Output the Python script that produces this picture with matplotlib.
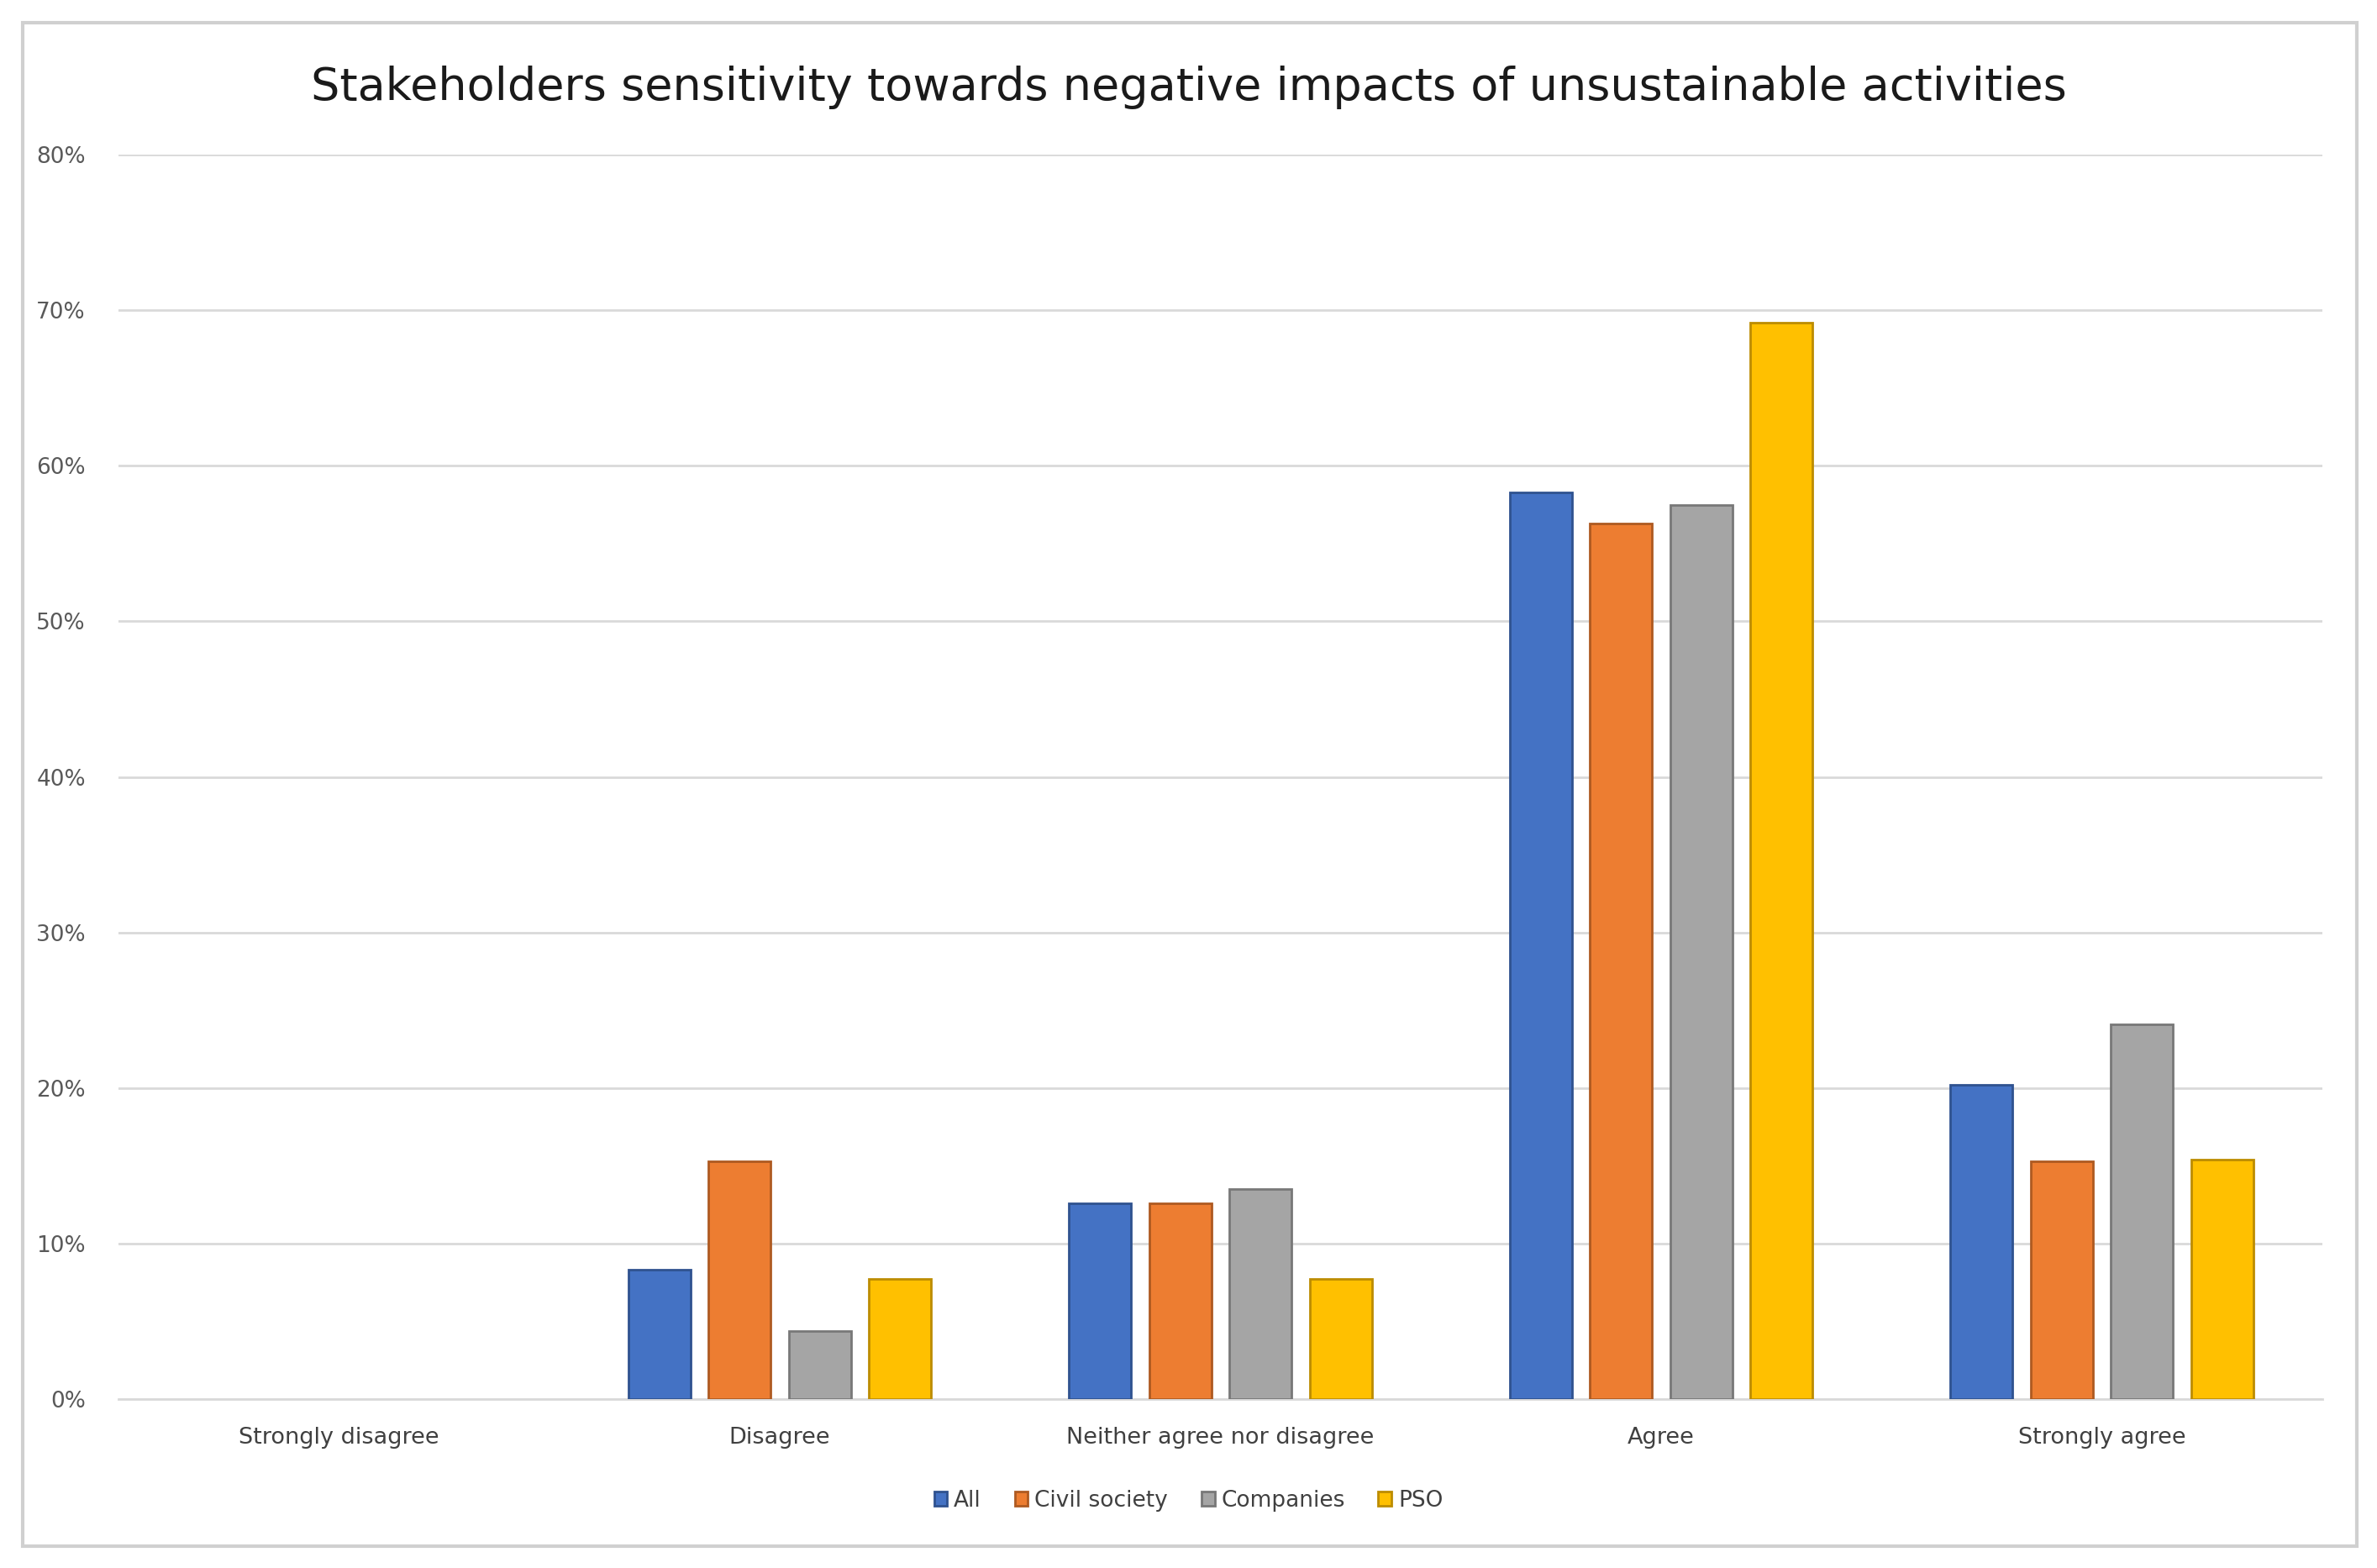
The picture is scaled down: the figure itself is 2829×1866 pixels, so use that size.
import numpy as np
import matplotlib
matplotlib.use('Agg')
from matplotlib import pyplot as plt
from matplotlib.patches import Rectangle

####DATA####
categories=['Strongly disagree','Disagree','Neither agree nor disagree','Agree','Strongly agree']
groups=['All','Civil society','Companies','PSO']
all_vals=[0.0,8.3,12.6,58.3,20.2]
civil_vals=[0.0,15.3,12.6,56.3,15.3]
companies_vals=[0.0,4.4,13.5,57.5,24.1]
pso_vals=[0.0,7.7,7.7,69.2,15.4]
yticks=[0,10,20,30,40,50,60,70,80]
############

colors=['#4472C4','#ED7D31','#A5A5A5','#FFC000']
edges=['#2F528F','#AE5A21','#787878','#BC8C00']
series=[all_vals,civil_vals,companies_vals,pso_vals]

fig=plt.figure(figsize=(28.29,18.66),dpi=100)
ax=fig.add_axes([0.0498,0.1077,0.9272,0.7937])

x=np.arange(len(categories))
step=0.182
width=0.141
for i,vals in enumerate(series):
    v=np.array(vals)/100.
    pos=x+(i-1.5)*step
    mask=v>0
    ax.bar(pos[mask],v[mask],width=width,color=colors[i],edgecolor=edges[i],linewidth=2,label=groups[i],zorder=3)

ax.set_xlim(-0.5,len(categories)-0.5)
ax.set_ylim(0,0.8)
ax.set_yticks([t/100. for t in yticks])
ax.set_yticklabels([str(t)+'%' for t in yticks],fontsize=19,color='#595959')
ax.set_xticks(x)
ax.set_xticklabels(categories,fontsize=19.5,color='#404040')
ax.tick_params(axis='both',length=0)
ax.tick_params(axis='y',pad=28)
ax.tick_params(axis='x',pad=24)
ax.grid(axis='y',color='#D9D9D9',linewidth=2,zorder=0)
for s in ['top','right','left']:
    ax.spines[s].set_visible(False)
ax.spines['bottom'].set_color('#D9D9D9')
ax.spines['bottom'].set_linewidth(2)

fig.text(0.5,0.944,'Stakeholders sensitivity towards negative impacts of unsustainable activities',
         ha='center',va='center',fontsize=39,color='#1a1a1a')

leg=fig.legend(loc='center',bbox_to_anchor=(0.5,0.043),ncol=4,frameon=False,fontsize=19,
               handlelength=0.6,handleheight=0.6,handletextpad=0.3,columnspacing=1.5)
for t in leg.get_texts():
    t.set_color('#404040')

# outer chart border
fig.patches.append(Rectangle((27/2829.,1-1840/1866.),(2805-27)/2829.,(1840-27)/1866.,
                             transform=fig.transFigure,fill=False,edgecolor='#D0D0D0',linewidth=3))

fig.savefig('out.png',dpi=100)
